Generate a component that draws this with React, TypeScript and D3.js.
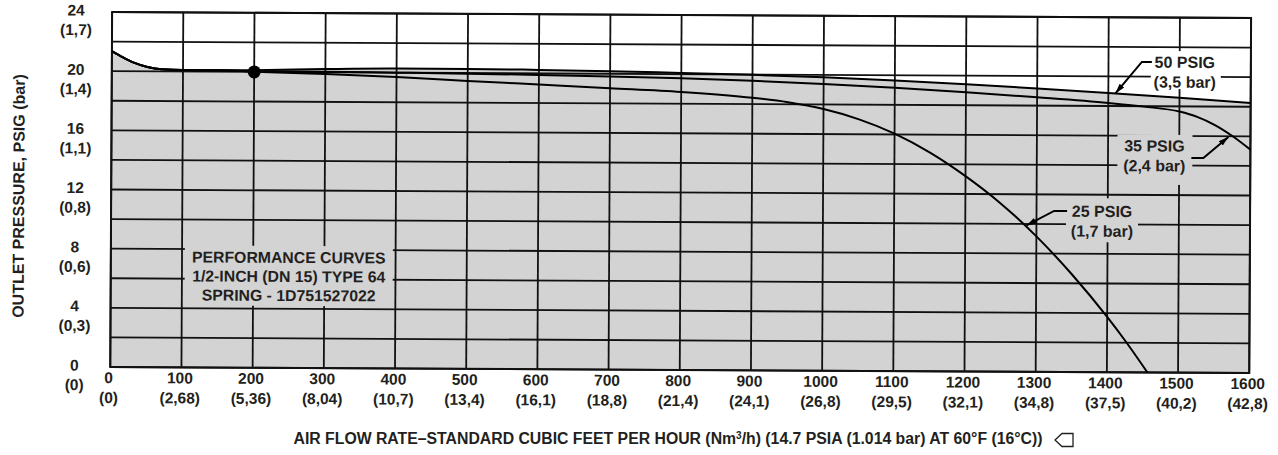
import React from 'react';
import * as d3 from 'd3';

// ---- data ----
const flowTicks = [0, 100, 200, 300, 400, 500, 600, 700, 800, 900, 1000, 1100, 1200, 1300, 1400, 1500, 1600];
const flowNm3Labels = ['(0)', '(2,68)', '(5,36)', '(8,04)', '(10,7)', '(13,4)', '(16,1)', '(18,8)', '(21,4)', '(24,1)', '(26,8)', '(29,5)', '(32,1)', '(34,8)', '(37,5)', '(40,2)', '(42,8)'];
const psigTicks = [0, 4, 8, 12, 16, 20, 24];
const barLabels = ['(0)', '(0,3)', '(0,6)', '(0,8)', '(1,1)', '(1,4)', '(1,7)'];

// common droop at low flow
const startFlow = [0, 15, 30, 50, 70, 100, 150];
const startPsig = [21.35, 20.95, 20.6, 20.3, 20.15, 20.1, 20.1];

// 50 PSIG (3,5 bar) inlet
const flow50 = [200, 300, 400, 500, 600, 700, 800, 900, 1000, 1100, 1200, 1300, 1400, 1500, 1600];
const psig50 = [20.12, 20.22, 20.28, 20.28, 20.24, 20.18, 20.08, 19.98, 19.84, 19.65, 19.42, 19.16, 18.88, 18.58, 18.25];

// 35 PSIG (2,4 bar) inlet
const flow35 = [200, 300, 400, 500, 600, 700, 800, 900, 1000, 1100, 1200, 1300, 1400, 1450, 1500, 1525, 1550, 1575, 1600];
const psig35 = [20.05, 20.04, 20.0, 19.96, 19.9, 19.82, 19.72, 19.58, 19.38, 19.15, 18.88, 18.56, 18.2, 17.97, 17.65, 17.3, 16.75, 16.0, 15.1];

// 25 PSIG (1,7 bar) inlet
const flow25 = [200, 300, 400, 500, 600, 700, 800, 900, 950, 1000, 1050, 1100, 1150, 1200, 1250, 1300, 1350, 1400, 1425, 1457];
const psig25 = [20.02, 19.88, 19.7, 19.47, 19.25, 19.03, 18.8, 18.43, 18.14, 17.69, 17.01, 16.06, 14.79, 13.21, 11.36, 9.16, 6.61, 3.74, 2.17, 0];

const setPointFlow = 200;
const setPointPsig = 20;

const noteLines = ['PERFORMANCE CURVES', '1/2-INCH (DN 15) TYPE 64', 'SPRING - 1D751527022'];

type Pt = [number, number];
const zip = (a: number[], b: number[]): Pt[] => a.map((v, i) => [v, b[i]] as Pt);

export default function App() {
  const W = 1278, H = 455;
  const left = 111, right = 1250, top = 15, bottom = 370;
  const x = d3.scaleLinear().domain([0, 1600]).range([left, right]);
  const y = d3.scaleLinear().domain([0, 24]).range([bottom, top]);

  const line = d3.line<Pt>().x(d => x(d[0])).y(d => y(d[1])).curve(d3.curveMonotoneX);
  const area = d3.area<Pt>().x(d => x(d[0])).y0(y(0)).y1(d => y(d[1])).curve(d3.curveMonotoneX);

  const s50 = zip(startFlow.concat(flow50), startPsig.concat(psig50));
  const s35 = zip(startFlow.concat(flow35), startPsig.concat(psig35));
  const s25 = zip(startFlow.concat(flow25), startPsig.concat(psig25));

  const hGrid = d3.range(0, 25, 2);
  const vGrid = flowTicks;

  const font = '"Liberation Sans", Arial, Helvetica, sans-serif';
  const ink = '#231f20';
  const gridColor = '#111';
  const fill = '#d3d3d3';

  const annotations = [
    { l1: '50 PSIG', l2: '(3,5 bar)', cx: 1184, cy: 59.5, bg: '#ffffff', box: [1150, 48.5, 70, 38], pts: [[1151, 59.5], [1141, 59.5]], tip: [1410, 18.86] },
    { l1: '35 PSIG', l2: '(2,4 bar)', cx: 1154, cy: 143.3, bg: fill, box: [1117, 132.3, 75, 50], pts: [[1191, 155.3], [1203, 155.3]], tip: [1569, 15.95] },
    { l1: '25 PSIG', l2: '(1,7 bar)', cx: 1102, cy: 209, bg: fill, box: [1066, 196, 72, 44], pts: [[1067, 209], [1054, 209]], tip: [1286, 9.9] },
  ];

  return (
    <svg width={W} height={H} viewBox={`0 0 ${W} ${H}`} style={{ position: 'absolute', left: 0, top: 0, background: '#fff' }}>
      <defs>
        <marker id="arr" viewBox="0 0 10 6" refX="10" refY="3" markerWidth="10" markerHeight="6" markerUnits="userSpaceOnUse" orient="auto">
          <path d="M0,0 L10,3 L0,6 z" fill="#000" />
        </marker>
      </defs>
      <rect x={0} y={0} width={W} height={H} fill="#fff" />
      <g transform="rotate(0.3, 680, 227)">
        <path d={area(s50) || ''} fill={fill} />
        {hGrid.map(v => (
          <line key={'h' + v} x1={left} x2={right} y1={y(v)} y2={y(v)} stroke={gridColor} strokeWidth={1.8} />
        ))}
        {vGrid.map(v => (
          <line key={'v' + v} x1={x(v)} x2={x(v)} y1={top} y2={bottom} stroke={gridColor} strokeWidth={1.8} />
        ))}
        <rect x={left} y={top} width={right - left} height={bottom - top} fill="none" stroke={gridColor} strokeWidth={2} />

        {/* note box */}
        <rect x={185} y={248} width={208} height={60} fill={fill} />
        {noteLines.map((t, i) => (
          <text key={t} x={289} y={265 + i * 19} textAnchor="middle" fontFamily={font} fontWeight="bold" fontSize={15.8} fill={ink}>{t}</text>
        ))}

        {/* curves */}
        <path d={line(s25) || ''} fill="none" stroke="#000" strokeWidth={2} />
        <path d={line(s35) || ''} fill="none" stroke="#000" strokeWidth={2} />
        <path d={line(s50) || ''} fill="none" stroke="#000" strokeWidth={2} />
        <circle cx={x(setPointFlow)} cy={y(setPointPsig)} r={6.5} fill="#000" />

        {/* annotations */}
        {annotations.map(a => (
          <g key={a.l1}>
            <rect x={a.box[0]} y={a.box[1]} width={a.box[2]} height={a.box[3]} fill={a.bg} />
            <text x={a.cx} y={a.cy + 5.7} textAnchor="middle" fontFamily={font} fontWeight="bold" fontSize={16} fill={ink}>{a.l1}</text>
            <text x={a.cx} y={a.cy + 25.5} textAnchor="middle" fontFamily={font} fontWeight="bold" fontSize={16} fill={ink}>{a.l2}</text>
            <polyline
              points={[...a.pts, [x(a.tip[0]), y(a.tip[1])]].map(p => p.join(',')).join(' ')}
              fill="none" stroke="#000" strokeWidth={2} markerEnd="url(#arr)"
            />
          </g>
        ))}

        {/* y tick labels */}
        {psigTicks.map((v, i) => (
          <g key={'yl' + v} fontFamily={font} fontWeight="bold" fontSize={15.5} fill={ink} textAnchor="middle">
            <text x={75} y={y(v) - 1.8 + 5.5}>{v}</text>
            <text x={75} y={y(v) + 17.7 + 5.5}>{barLabels[i]}</text>
          </g>
        ))}

        {/* x tick labels */}
        {flowTicks.map((v, i) => (
          <g key={'xl' + v} fontFamily={font} fontWeight="bold" fontSize={15.5} fill={ink} textAnchor="middle">
            <text x={x(v) - 1.5} y={386}>{v}</text>
            <text x={x(v) - 1.5} y={406}>{flowNm3Labels[i]}</text>
          </g>
        ))}

        <text transform="translate(24,199.5) rotate(-90)" textAnchor="middle" fontFamily={font} fontWeight="bold" fontSize={16} fill={ink}>
          OUTLET PRESSURE, PSIG (bar)
        </text>
      </g>

      <text x={668} y={443.5} textAnchor="middle" fontFamily={font} fontWeight="bold" fontSize={15.8} fill={ink}>
        AIR FLOW RATE–STANDARD CUBIC FEET PER HOUR (Nm<tspan dy={-5} fontSize={10}>3</tspan><tspan dy={5}>/h) (14.7 PSIA (1.014 bar) AT 60°F (16°C))</tspan>
      </text>
      <path d="M1073,433.5 L1062,433.5 L1055,440 L1062,446.5 L1073,446.5 Z" fill="none" stroke={ink} strokeWidth={1.3} />
    </svg>
  );
}
